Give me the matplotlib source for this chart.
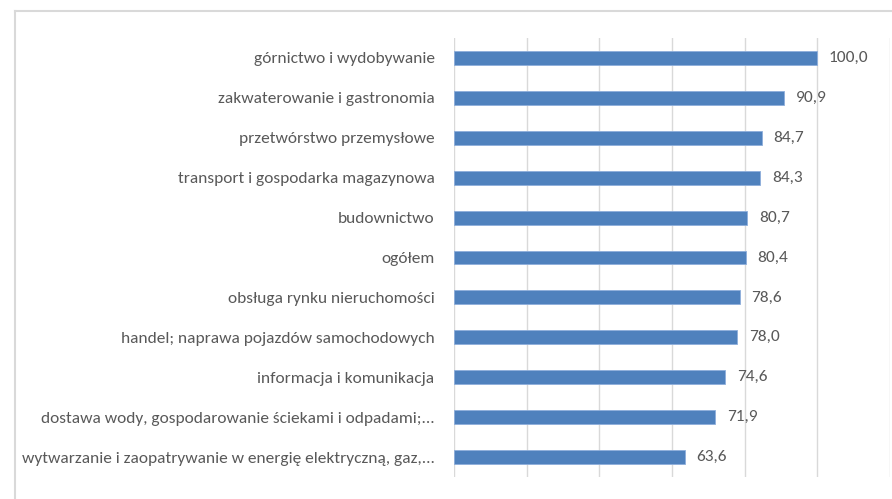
import matplotlib
matplotlib.use("Agg")
import matplotlib.pyplot as plt
from matplotlib.lines import Line2D

categories = [
    "górnictwo i wydobywanie",
    "zakwaterowanie i gastronomia",
    "przetwórstwo przemysłowe",
    "transport i gospodarka magazynowa",
    "budownictwo",
    "ogółem",
    "obsługa rynku nieruchomości",
    "handel; naprawa pojazdów samochodowych",
    "informacja i komunikacja",
    "dostawa wody, gospodarowanie ściekami i odpadami;...",
    "wytwarzanie i zaopatrywanie w energię elektryczną, gaz,...",
]
values = [100.0, 90.9, 84.7, 84.3, 80.7, 80.4, 78.6, 78.0, 74.6, 71.9, 63.6]
x_ticks = [0, 20, 40, 60, 80, 100, 120]

plt.rcParams["font.family"] = ["Carlito", "DejaVu Sans"]
TXT = "#595959"
BAR = "#4f81bd"
FS = 12.5

fig = plt.figure(figsize=(8.92, 4.99), dpi=100)
ax = fig.add_axes([454 / 892, 1 - 477 / 499, (890 - 454) / 892, (477 - 38) / 499])

ypos = list(range(len(categories)))
ax.barh(ypos, values, height=0.35, color=BAR, edgecolor="#8eaedb", linewidth=0.6, zorder=3)
for y, v in zip(ypos, values):
    ax.text(v + 3.2, y, f"{v:.1f}".replace(".", ","), va="center", ha="left",
            fontsize=FS, color=TXT)

ax.set_xlim(0, 120)
ax.set_ylim(len(categories) - 0.5, -0.5)
ax.set_xticks(x_ticks)
ax.set_xticklabels([])
ax.grid(axis="x", color="#d9d9d9", lw=1.0, zorder=0)
ax.set_yticks(ypos)
ax.set_yticklabels(categories, fontsize=FS, color=TXT)
ax.tick_params(axis="y", length=0, pad=14)
ax.tick_params(axis="x", length=0)
for s in ax.spines.values():
    s.set_visible(False)

# chart frame (only top and left edges are inside the image)
fig.add_artist(Line2D([15 / 892, 1.0], [1 - 11 / 499, 1 - 11 / 499], color="#d9d9d9", lw=1.5))
fig.add_artist(Line2D([15 / 892, 15 / 892], [1 - 11 / 499, 0.0], color="#d9d9d9", lw=1.5))

fig.savefig("out.png", dpi=100)
